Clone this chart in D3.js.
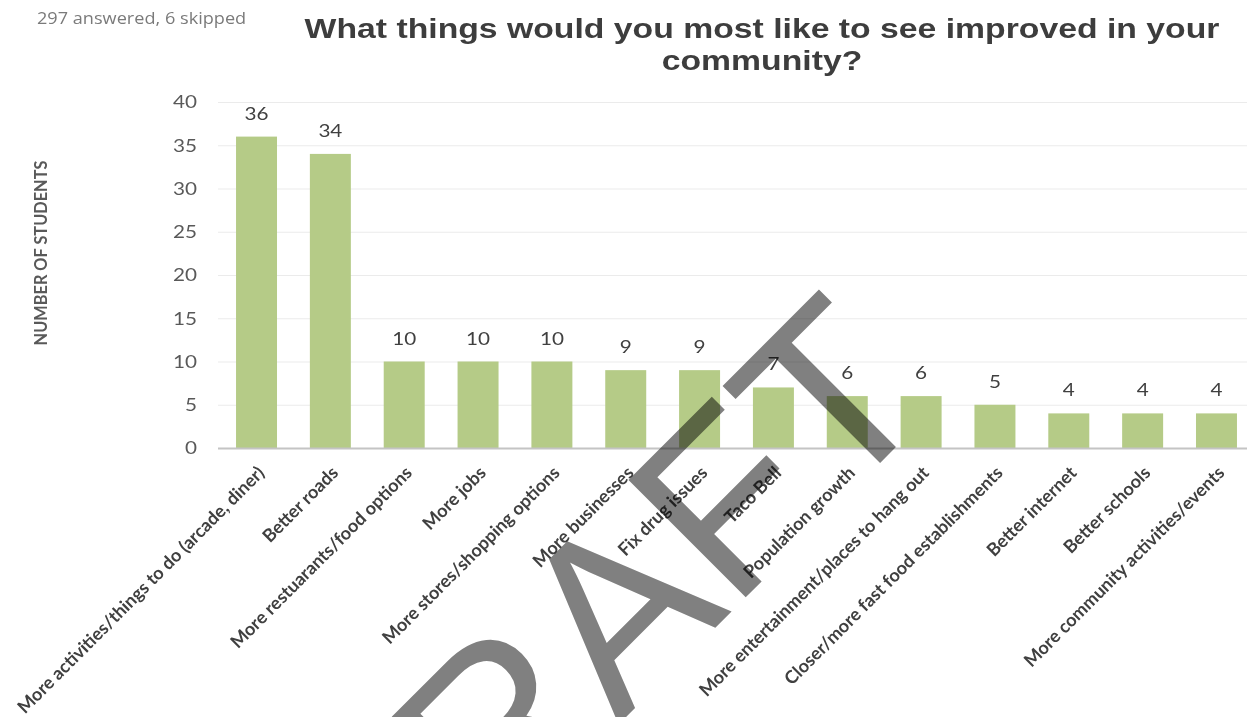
<!DOCTYPE html>
<html>
<head>
<meta charset="utf-8">
<script src="https://cdn.jsdelivr.net/npm/d3@7"></script>
<style>
  html, body { margin: 0; padding: 0; background: #ffffff; }
  svg { display: block; }
</style>
</head>
<body>
<svg id="chart" width="1247" height="717"></svg>
<script>
const categories = [
  "More activities/things to do (arcade, diner)",
  "Better roads",
  "More restuarants/food options",
  "More jobs",
  "More stores/shopping options",
  "More businesses",
  "Fix drug issues",
  "Taco Bell",
  "Population growth",
  "More entertainment/places to hang out",
  "Closer/more fast food establishments",
  "Better internet",
  "Better schools",
  "More community activities/events"
];
const values = [36, 34, 10, 10, 10, 9, 9, 7, 6, 6, 5, 4, 4, 4];
const yTicks = [0, 5, 10, 15, 20, 25, 30, 35, 40];
const titleLines = ["What things would you most like to see improved in your", "community?"];
const subtitle = "297 answered, 6 skipped";
const yAxisTitle = "NUMBER OF STUDENTS";
const watermark = "DRAFT";

const svg = d3.select("#chart");
const SX = 1.15; // horizontal stretch of the reference's glyphs

const x = d3.scaleBand()
  .domain(categories)
  .range([219.6, 1253.4])
  .paddingInner(0.445)
  .paddingOuter(0.2225);

const y = d3.scaleLinear().domain([0, 40]).range([448, 102]);

// gridlines
svg.append("g").selectAll("line").data(yTicks.filter(d => d > 0)).join("line")
  .attr("x1", 218).attr("x2", 1247)
  .attr("y1", d => y(d) + 0.5).attr("y2", d => y(d) + 0.5)
  .attr("stroke", "#ebebeb").attr("stroke-width", 1);

// y tick labels
svg.append("g").selectAll("text").data(yTicks).join("text")
  .attr("transform", d => `translate(197,${y(d)}) scale(${SX},1)`)
  .attr("dy", "0.35em")
  .attr("text-anchor", "end")
  .attr("font-family", "Lato, sans-serif")
  .attr("font-size", 18)
  .attr("fill", "#595959")
  .text(d => d);

// bars
svg.append("g").selectAll("rect").data(values).join("rect")
  .attr("x", (d, i) => x(categories[i]))
  .attr("width", x.bandwidth())
  .attr("y", d => y(d))
  .attr("height", d => y(0) - y(d))
  .attr("fill", "#b5cb87");

// baseline
svg.append("line")
  .attr("x1", 218).attr("x2", 1247)
  .attr("y1", y(0) + 0.5).attr("y2", y(0) + 0.5)
  .attr("stroke", "#c4c4c4").attr("stroke-width", 2);

// value labels
svg.append("g").selectAll("text").data(values).join("text")
  .attr("transform", (d, i) => `translate(${x(categories[i]) + x.bandwidth() / 2},${y(d) - 17}) scale(${SX},1)`)
  .attr("text-anchor", "middle")
  .attr("font-family", "Lato, sans-serif")
  .attr("font-size", 18)
  .attr("fill", "#404040")
  .text(d => d);

// category labels: size fitted so the longest label spans like the reference
const probe = svg.append("text")
  .attr("font-family", "Lato, sans-serif").attr("font-weight", 700)
  .attr("font-size", 10).text(categories[0]);
const probeLen = probe.node().getComputedTextLength();
probe.remove();
const catSize = Math.min(18, 10 * 345 / probeLen);

svg.append("g").selectAll("text").data(categories).join("text")
  .attr("transform", d => `translate(${x(d) + x.bandwidth() / 2 + 9},${y(0) + 26}) rotate(-45)`)
  .attr("text-anchor", "end")
  .attr("font-family", "Lato, sans-serif")
  .attr("font-weight", 700)
  .attr("font-size", catSize)
  .attr("fill", "#404040")
  .text(d => d);

// y axis title
const yt = svg.append("text")
  .attr("text-anchor", "middle")
  .attr("font-family", "Lato, sans-serif")
  .attr("font-weight", 700)
  .attr("font-size", 10)
  .attr("fill", "#595959")
  .text(yAxisTitle);
const ytLen = yt.node().getComputedTextLength();
yt.attr("font-size", 10 * 185 / ytLen)
  .attr("transform", "translate(47,253) rotate(-90)");

// subtitle
svg.append("text")
  .attr("transform", `translate(37,24) scale(1.17,1)`)
  .attr("font-family", "'Open Sans', sans-serif")
  .attr("font-size", 15.5)
  .attr("fill", "#7a7a7a")
  .text(subtitle);

// title
const tg = svg.append("g");
const tl = tg.selectAll("text").data(titleLines).join("text")
  .attr("text-anchor", "middle")
  .attr("font-family", "'Liberation Sans', Arial, sans-serif")
  .attr("font-weight", 700)
  .attr("font-size", 28)
  .attr("fill", "#3d3d3d")
  .text(d => d);
const l1 = tl.nodes()[0].getComputedTextLength();
const kT = 915 / l1;
tl.attr("transform", (d, i) => `translate(762,${38 + i * 32}) scale(${kT},1)`);

// watermark
svg.append("text")
  .attr("transform", "translate(372,971) rotate(-45)")
  .attr("font-family", "'Liberation Sans', Arial, sans-serif")
  .attr("font-size", 241)
  .attr("fill", "#808080")
  .style("mix-blend-mode", "multiply")
  .text(watermark);
</script>
</body>
</html>
